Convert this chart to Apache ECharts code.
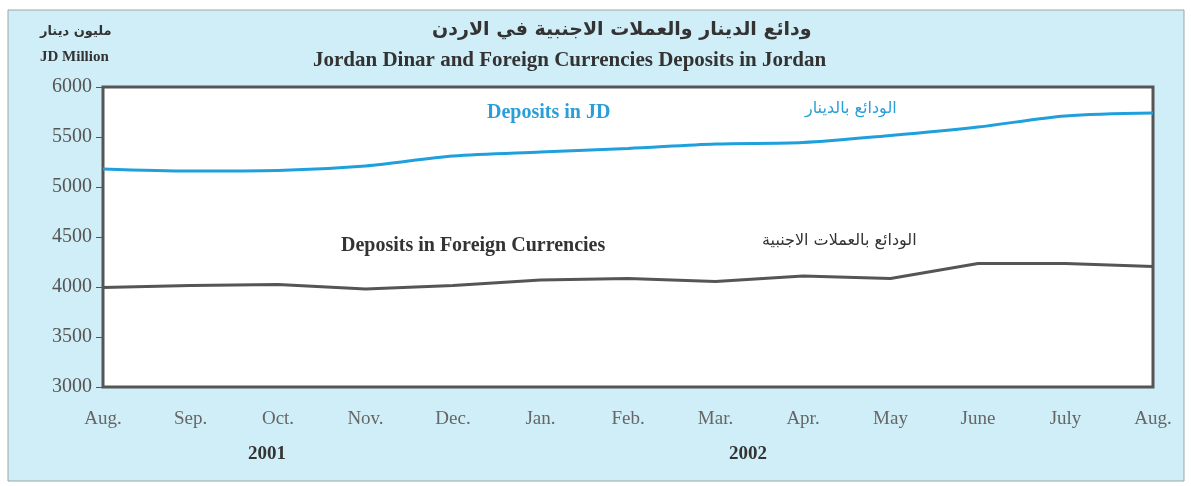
<!DOCTYPE html>
<html>
<head>
<meta charset="utf-8">
<script src="https://cdn.jsdelivr.net/npm/echarts@6/dist/echarts.min.js"></script>
<style>
  html, body { margin: 0; padding: 0; background: #fff; }
  #chart { width: 1191px; height: 486px; }
</style>
</head>
<body>
<div id="chart"></div>
<script>
// months, Aug 2001 .. Aug 2002
var months = ['Aug.', 'Sep.', 'Oct.', 'Nov.', 'Dec.', 'Jan.', 'Feb.', 'Mar.', 'Apr.', 'May', 'June', 'July', 'Aug.'];
// JD million
var depositsJD = [5180, 5160, 5165, 5210, 5310, 5350, 5385, 5430, 5445, 5515, 5600, 5710, 5740];
var depositsForeign = [3995, 4015, 4025, 3980, 4015, 4070, 4085, 4055, 4110, 4085, 4235, 4235, 4205];
var yTicks = [3000, 6000, 500]; // min, max, step

var serif = '"Liberation Serif", "DejaVu Serif", serif';
var arabic = '"DejaVu Sans", "Noto Sans", sans-serif';

var chart = echarts.init(document.getElementById('chart'));

var option = {
    backgroundColor: '#fff',
    animation: false,
    graphic: [
        // outer panel
        {
            type: 'rect', z: -10, silent: true,
            shape: { x: 8, y: 10, width: 1176, height: 471 },
            style: { fill: '#d0eef7', stroke: '#9aa4a8', lineWidth: 1 }
        },
        // titles
        {
            type: 'text', left: 432, top: 21, z: 10,
            style: { text: 'ودائع الدينار والعملات الاجنبية في الاردن', font: 'bold 19px ' + arabic, fill: '#333' }
        },
        {
            type: 'text', left: 313, top: 50, z: 10,
            style: { text: 'Jordan Dinar and Foreign Currencies Deposits in Jordan', font: 'bold 21px ' + serif, fill: '#333' }
        },
        // unit
        {
            type: 'text', left: 40, top: 25, z: 10,
            style: { text: 'مليون دينار', font: 'bold 13px ' + arabic, fill: '#333' }
        },
        {
            type: 'text', left: 40, top: 50, z: 10,
            style: { text: 'JD Million', font: 'bold 15px ' + serif, fill: '#333' }
        },
        // series notes
        {
            type: 'text', left: 487, top: 103, z: 10,
            style: { text: 'Deposits in JD', font: 'bold 20px ' + serif, fill: '#2a9ed8' }
        },
        {
            type: 'text', left: 805, top: 101, z: 10,
            style: { text: 'الودائع بالدينار', font: '16px ' + arabic, fill: '#2a9ed8' }
        },
        {
            type: 'text', left: 341, top: 236, z: 10,
            style: { text: 'Deposits in Foreign Currencies', font: 'bold 20px ' + serif, fill: '#333' }
        },
        {
            type: 'text', left: 762, top: 233, z: 10,
            style: { text: 'الودائع بالعملات الاجنبية', font: '16px ' + arabic, fill: '#333' }
        },
        // years
        {
            type: 'text', left: 248, top: 445, z: 10,
            style: { text: '2001', font: 'bold 19px ' + serif, fill: '#333' }
        },
        {
            type: 'text', left: 729, top: 445, z: 10,
            style: { text: '2002', font: 'bold 19px ' + serif, fill: '#333' }
        }
    ],
    grid: {
        left: 103,
        right: 38,
        top: 87,
        bottom: 99,
        show: true,
        backgroundColor: '#fff',
        borderColor: '#555',
        borderWidth: 3
    },
    xAxis: {
        type: 'category',
        data: months,
        boundaryGap: false,
        axisLine: { show: false },
        axisTick: { show: false },
        splitLine: { show: false },
        axisLabel: {
            interval: 0,
            margin: 23,
            color: '#666',
            fontFamily: serif,
            fontSize: 19
        }
    },
    yAxis: {
        type: 'value',
        min: yTicks[0],
        max: yTicks[1],
        interval: yTicks[2],
        axisLine: { show: false },
        axisTick: { show: true, length: 7, lineStyle: { color: '#555', width: 1 } },
        splitLine: { show: false },
        axisLabel: {
            margin: 11,
            color: '#555',
            fontFamily: serif,
            fontSize: 20,
            formatter: function (v) { return String(v); }
        }
    },
    series: [
        {
            name: 'Deposits in JD',
            type: 'line',
            data: depositsJD,
            smooth: 0.3,
            symbol: 'none',
            lineStyle: { color: '#1fa0dd', width: 3 }
        },
        {
            name: 'Deposits in Foreign Currencies',
            type: 'line',
            data: depositsForeign,
            symbol: 'none',
            lineStyle: { color: '#555', width: 3 }
        }
    ]
};

chart.setOption(option);
</script>
</body>
</html>
